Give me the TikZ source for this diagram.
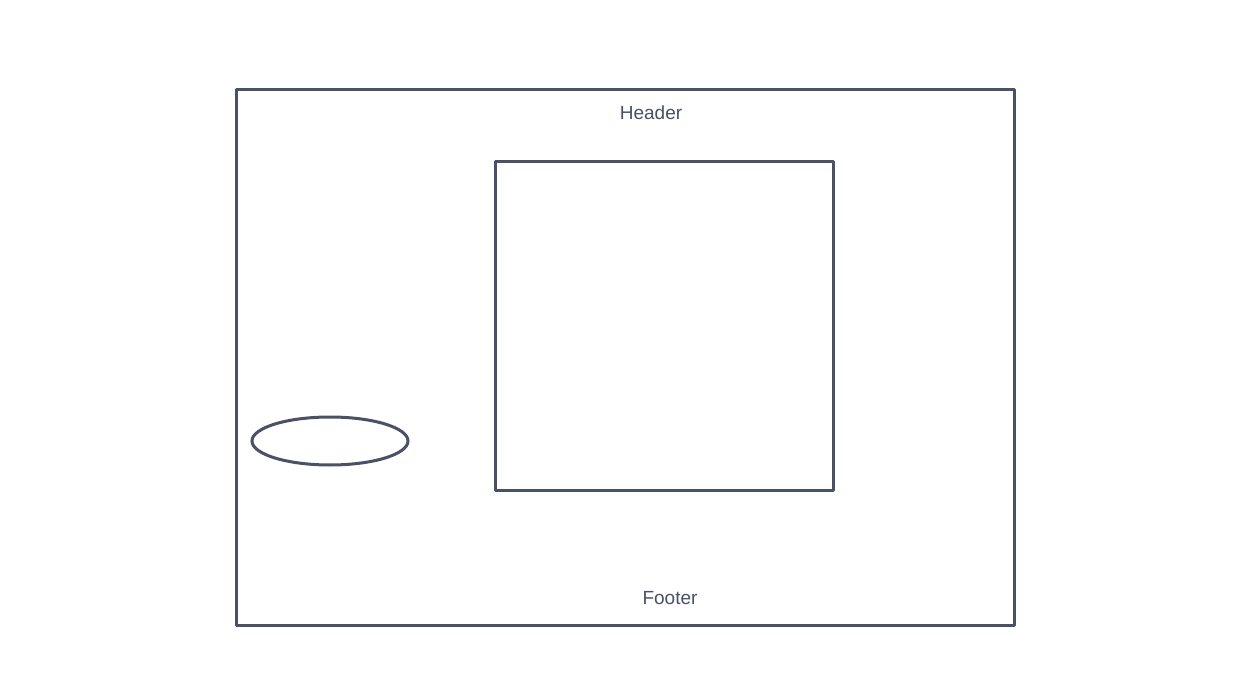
\documentclass[tikz,border=0pt]{standalone}
\usepackage{fontspec}
\setmainfont{Liberation Sans}
\usetikzlibrary{shapes.geometric}
\definecolor{ink}{HTML}{4A5065}
\tikzset{
  box/.style={draw=ink, line width=3pt, line join=round, line cap=round},
  lbl/.style={text=ink, font=\fontsize{19}{22}\selectfont, inner sep=0pt},
  oval/.style={draw=ink, line width=3pt, ellipse, minimum width=156pt, minimum height=48pt, inner sep=0pt}
}
\begin{document}
\begin{tikzpicture}[x=1pt,y=-1pt]
\useasboundingbox[fill=white] (0,0) rectangle (1254,679);
\draw[box] (236,90) coordinate (o1) -- (1014,90) -- (1014,625) -- (236,625) -- cycle;
\draw[box] (495,162) coordinate (i1) -- (833,162) -- (833,490) -- (495,490) -- cycle;
\node[oval] (e) at (330,441) {};
\node[lbl] (header) at (651,113) {Header};
\node[lbl] (footer) at (670,598) {Footer};
\end{tikzpicture}
\end{document}
